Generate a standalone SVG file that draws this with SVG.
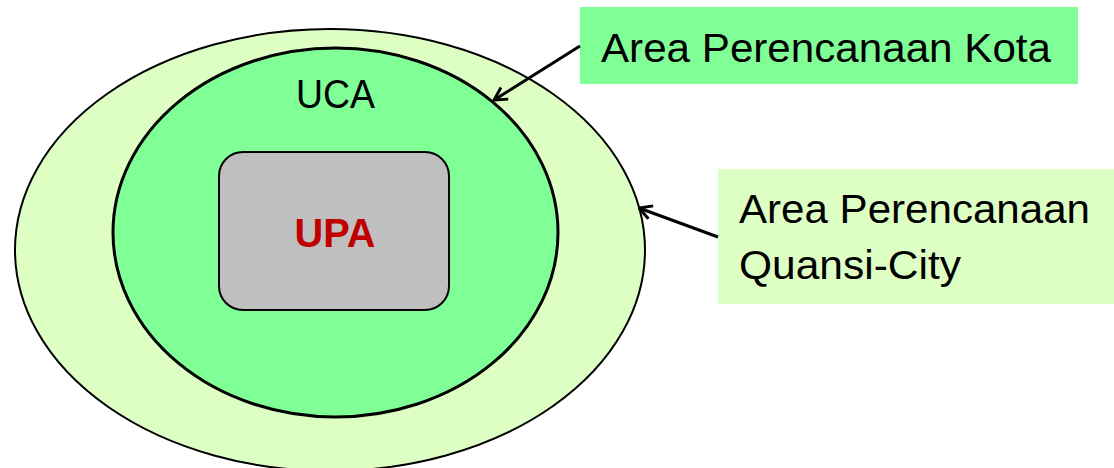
<svg xmlns="http://www.w3.org/2000/svg" width="1114" height="468" viewBox="0 0 1114 468">
  <style>
    .lbl { font-family: "Liberation Sans", Arial, sans-serif; fill: #000; }
    .conn { stroke: #000; stroke-width: 3; fill: none; }
  </style>
  <defs>
    <marker id="open" viewBox="0 0 14 14" refX="13" refY="7" markerWidth="16" markerHeight="16" markerUnits="userSpaceOnUse" orient="auto">
      <path d="M2,1 L13,7 L2,13" fill="none" stroke="#000" stroke-width="2.6"/>
    </marker>
  </defs>
  <rect width="1114" height="468" fill="#fff"/>
  <g id="quasi-city-area">
    <ellipse cx="330" cy="250" rx="315" ry="221" fill="#DDFFC4" stroke="#000" stroke-width="2"/>
  </g>
  <g id="uca">
    <ellipse cx="335.5" cy="232.5" rx="222.5" ry="184.5" fill="#7FFF96" stroke="#000" stroke-width="3"/>
    <text class="lbl" x="335.5" y="108" font-size="40" text-anchor="middle" textLength="79" lengthAdjust="spacingAndGlyphs">UCA</text>
  </g>
  <g id="upa">
    <rect x="219" y="152" width="230" height="158" rx="24" ry="24" fill="#BFBFBF" stroke="#000" stroke-width="2"/>
    <text x="335" y="247" font-family="Liberation Sans, Arial, sans-serif" font-weight="bold" font-size="40" fill="#C00000" text-anchor="middle" textLength="81" lengthAdjust="spacingAndGlyphs">UPA</text>
  </g>
  <g id="label-kota">
    <rect x="580" y="7" width="498" height="77" fill="#7FFF96"/>
    <text class="lbl" x="601" y="62" font-size="40" textLength="450" lengthAdjust="spacingAndGlyphs">Area Perencanaan Kota</text>
  </g>
  <g id="label-quasi">
    <rect x="718" y="169" width="396" height="135" fill="#DDFFC4"/>
    <text class="lbl" x="739" y="223" font-size="40" textLength="351" lengthAdjust="spacingAndGlyphs">Area Perencanaan</text>
    <text class="lbl" x="739" y="279" font-size="40" textLength="222" lengthAdjust="spacingAndGlyphs">Quansi-City</text>
  </g>
  <g id="connectors">
    <line class="conn" x1="580" y1="46" x2="494" y2="100" marker-end="url(#open)"/>
    <line class="conn" x1="718" y1="237" x2="639" y2="208" marker-end="url(#open)"/>
  </g>
</svg>
